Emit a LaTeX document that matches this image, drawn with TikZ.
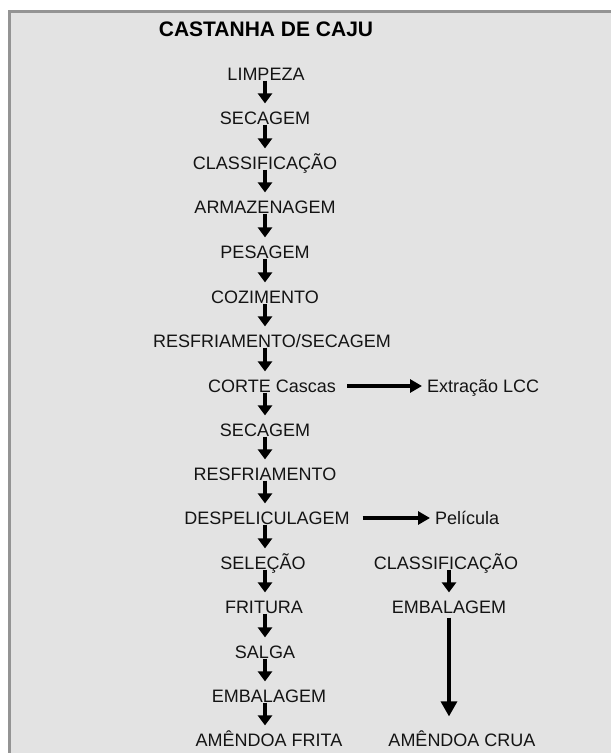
\documentclass[tikz,border=0pt]{standalone}
\usepackage{fontspec}
\setmainfont{Liberation Sans}
\usetikzlibrary{arrows.meta}

\begin{document}
\begin{tikzpicture}[x=1pt,y=-1pt,
  etapa/.style={inner sep=0pt,text height=12.8pt,text depth=0pt,
    font=\fontsize{18}{21}\selectfont,text=black!92},
  seta/.style={-{Triangle[width=14pt,length=10pt]},line width=3.2pt,
    shorten <=0pt,shorten >=8pt},
  setah/.style={-{Triangle[width=13pt,length=12pt]},line width=3.2pt}]
  % sheet with grey frame on top and left
  \useasboundingbox (0,0) rectangle (611,753);
  \fill[white] (0,0) rectangle (611,753);
  \fill[black!11] (8,10) rectangle (611,753);
  \draw[black!42,line width=3pt] (9.5,753) -- (9.5,11.5) -- (611,11.5);
  \node[font=\bfseries\fontsize{21}{24}\selectfont] (titulo) at (266,29) {CASTANHA DE CAJU};
  % --- main column ---
  \coordinate (eixo) at (265,0);
  \foreach \n/\x/\y/\t in {limpeza/266/74/LIMPEZA,secagem/265/118/SECAGEM,
    classif/265/163/CLASSIFICAÇÃO,armaz/265/207/ARMAZENAGEM,pesagem/265/252/PESAGEM,
    cozim/265/297/COZIMENTO,resfsec/272/341/{RESFRIAMENTO/SECAGEM},corte/272/386/CORTE Cascas,
    secagemb/265/430/SECAGEM,resfr/265/474/RESFRIAMENTO,despel/267/518/DESPELICULAGEM,
    selecao/263/563/SELEÇÃO,fritura/264/607/FRITURA,salga/265/652/SALGA,
    embal/269/696/EMBALAGEM,frita/269/740/AMÊNDOA FRITA}
    \node[etapa] (\n) at (\x,\y) {\t};
  \foreach \a/\b in {limpeza/secagem,secagem/classif,classif/armaz,armaz/pesagem,
    pesagem/cozim,cozim/resfsec,resfsec/corte,corte/secagemb,secagemb/resfr,
    resfr/despel,despel/selecao,selecao/fritura,fritura/salga,salga/embal,embal/frita}
    \draw[seta] (\a.south -| eixo) -- (\b.north -| eixo);
  % --- side outputs ---
  \node[etapa,anchor=west] (lcc) at (427,386) {Extração LCC};
  \node[etapa,anchor=west] (pelicula) at (435,518) {Película};
  \draw[setah,shorten <=11pt,shorten >=5pt] (corte.east) -- (lcc.west);
  \draw[setah,shorten <=13pt,shorten >=5pt] (despel.east) -- (pelicula.west);
  % --- right column ---
  \coordinate (eixob) at (449,0);
  \node[etapa] (classifb) at (446,563) {CLASSIFICAÇÃO};
  \node[etapa] (embalb) at (449,607) {EMBALAGEM};
  \node[etapa] (crua) at (462,740) {AMÊNDOA CRUA};
  \draw[seta] (classifb.south -| eixob) -- (embalb.north -| eixob);
  \draw[seta,-{Triangle[width=16pt,length=15pt]},shorten <=4pt,shorten >=17pt]
    (embalb.south -| eixob) -- (crua.north -| eixob);
\end{tikzpicture}
\end{document}
